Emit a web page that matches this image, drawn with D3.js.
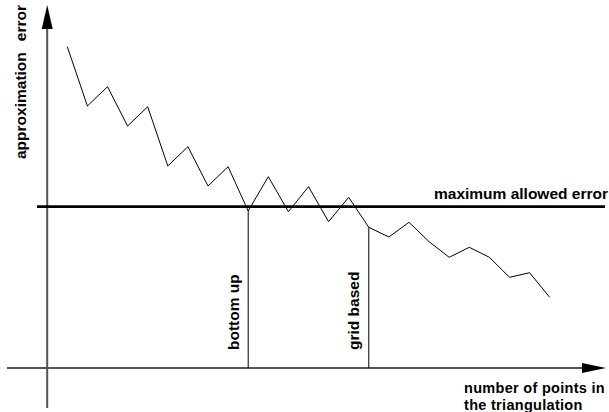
<!DOCTYPE html>
<html>
<head>
<meta charset="utf-8">
<script src="https://cdn.jsdelivr.net/npm/d3@7/dist/d3.min.js"></script>
<style>
  html, body { margin: 0; padding: 0; background: #fff; }
  svg { display: block; }
  text { font-family: "Liberation Sans", Arial, Helvetica, sans-serif; font-weight: bold; fill: #000; }
</style>
</head>
<body>
<svg id="chart" width="609" height="412"></svg>
<script>
// ---- data ----
const pointIndex = d3.range(25);
const errorValues = [321.3, 262, 281.3, 242, 261.3, 202, 221.3, 182, 201.3, 157,
  191.3, 156.3, 181.3, 146.3, 170.7, 140.7, 131, 145.7, 126.3, 110.7,
  120.7, 110.7, 90.7, 95.3, 70.7];
const maxAllowedError = 161.3;
const markerIndices = [9, 15];
const markerLabels = ["bottom up", "grid based"];
const yAxisLabel = ["approximation", "error"];
const xAxisLabel = ["number of points in", "the triangulation"];
const thresholdLabel = "maximum allowed error";

// ---- scales ----
const x = d3.scaleLinear().domain([0, 24]).range([67.3, 549.7]);
const y = d3.scaleLinear().domain([0, 363]).range([368, 5]);

const svg = d3.select("#chart");

const axisX = x(-1);      // position of vertical axis
const axisY = y(0);       // position of horizontal axis

// axes
const axisColor = "#555";
svg.append("line")
  .attr("x1", 7).attr("x2", 584).attr("y1", axisY).attr("y2", axisY)
  .attr("stroke", axisColor).attr("stroke-width", 2);
svg.append("path")
  .attr("d", `M${x(26.8)},${axisY} L${x(26.8) - 24},${axisY - 5} L${x(26.8) - 24},${axisY + 5} Z`)
  .attr("fill", "#000");

svg.append("line")
  .attr("x1", axisX).attr("x2", axisX).attr("y1", 408).attr("y2", 27)
  .attr("stroke", axisColor).attr("stroke-width", 2);
svg.append("path")
  .attr("d", `M${axisX},${y(363)} L${axisX - 5.5},${y(363) + 24} L${axisX + 5.5},${y(363) + 24} Z`)
  .attr("fill", "#000");

// threshold line
svg.append("line")
  .attr("x1", 37).attr("x2", 605)
  .attr("y1", y(maxAllowedError)).attr("y2", y(maxAllowedError))
  .attr("stroke", "#000").attr("stroke-width", 2.7);

svg.append("text")
  .attr("x", 608).attr("y", y(maxAllowedError) - 7.5)
  .attr("text-anchor", "end")
  .attr("font-size", 15.5)
  .text(thresholdLabel);

// marker verticals
markerIndices.forEach((mi, k) => {
  svg.append("line")
    .attr("x1", x(mi)).attr("x2", x(mi))
    .attr("y1", y(errorValues[mi])).attr("y2", axisY)
    .attr("stroke", "#000").attr("stroke-width", 1);
  svg.append("text")
    .attr("transform", `translate(${x(mi) - 9.5},${350}) rotate(-90)`)
    .attr("font-size", 15.5)
    .text(markerLabels[k]);
});

// curve
const line = d3.line().x((d, i) => x(pointIndex[i])).y(d => y(d));
svg.append("path")
  .datum(errorValues)
  .attr("d", line)
  .attr("fill", "none")
  .attr("stroke", "#000")
  .attr("stroke-width", 1);

// y-axis label
const yl = svg.append("text")
  .attr("transform", `translate(26,159) rotate(-90)`)
  .attr("font-size", 15.5);
yl.append("tspan").text(yAxisLabel[0]);
yl.append("tspan").attr("dx", 11).text(yAxisLabel[1]);

// x-axis label
svg.append("text")
  .attr("x", 464).attr("y", 393)
  .attr("font-size", 14.5)
  .attr("letter-spacing", 0.3)
  .text(xAxisLabel[0]);
svg.append("text")
  .attr("x", 464).attr("y", 409.5)
  .attr("font-size", 14.5)
  .attr("letter-spacing", 0.3)
  .text(xAxisLabel[1]);
</script>
</body>
</html>
